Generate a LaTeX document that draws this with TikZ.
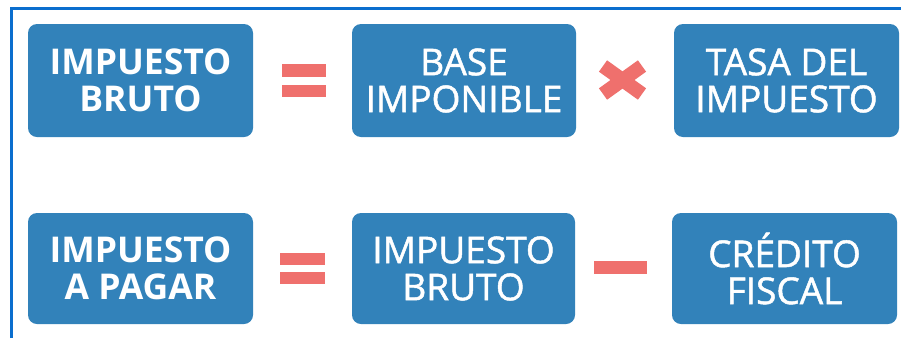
\documentclass[tikz,border=0pt]{standalone}
\usepackage{fontspec}
\setmainfont{Open Sans}
\newfontface\semibf{Open Sans}[FakeBold=1.3]
\definecolor{boxblue}{HTML}{3282BA}
\definecolor{frameblue}{HTML}{0A6ECE}
\definecolor{opred}{HTML}{EF706D}
\begin{document}
\begin{tikzpicture}[x=1pt,y=-1pt,
  box/.style={fill=boxblue, rounded corners=9pt, inner sep=0pt, outer sep=0pt,
    text=white, align=center, minimum width=225pt,
    font=\fontsize{37}{37}\selectfont\semibf},
  boldbox/.style={box, font=\fontsize{35.5}{37.5}\selectfont\bfseries},
  opfill/.style={fill=opred, draw=none}]
\useasboundingbox (0,0) rectangle (901,338);
\fill[white] (0,0) rectangle (901,338);
\draw[frameblue, line width=3pt] (11.5,338) -- (11.5,8) -- (901,8);
% row 1
\node[boldbox, minimum height=113pt] (ib1) at (140.5,80.5) {IMPUESTO\\BRUTO};
\node[box, minimum height=113pt, minimum width=224pt] (bi) at (464,80.5) {BASE\\IMPONIBLE};
\node[box, minimum height=113pt] (ti) at (786.5,80.5) {TASA DEL\\IMPUESTO};
\fill[opfill] (282,64) rectangle (326,77);
\fill[opfill] (282,85) rectangle (326,97);
\draw[opred, line width=14pt] (603,66) -- (642,94);
\draw[opred, line width=14pt] (603,94) -- (642,66);
% row 2
\node[boldbox, minimum height=111pt] (ip) at (140.5,268.5) {IMPUESTO\\A PAGAR};
\node[box, minimum height=111pt, minimum width=223pt] (ib2) at (463.5,268.5) {IMPUESTO\\BRUTO};
\node[box, minimum height=111pt] (cf) at (784.5,268.5) {CRÉDITO\\FISCAL};
\fill[opfill] (280,253) rectangle (325,265);
\fill[opfill] (280,272) rectangle (325,284);
\fill[opfill] (594,261) rectangle (647,274);
\end{tikzpicture}
\end{document}
